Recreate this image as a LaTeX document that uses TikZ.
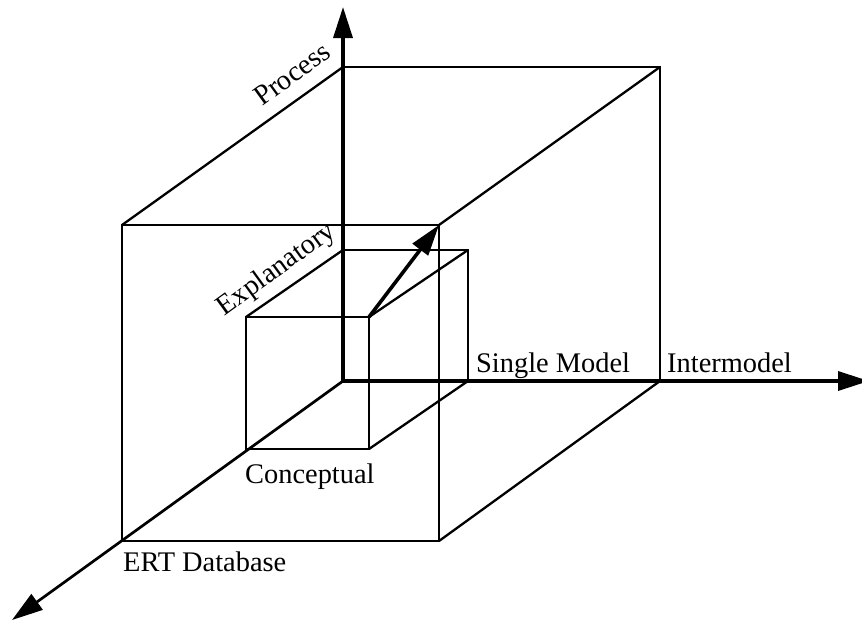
\documentclass[tikz,border=0pt]{standalone}
\usepackage{fontspec}
\setmainfont{Liberation Serif}
\usetikzlibrary{arrows.meta}
\begin{document}
\begin{tikzpicture}[x=1pt,y=-1pt,
  edge/.style={line width=2.3pt,line join=miter},
  axis/.style={line width=3.4pt,-{Triangle[length=31pt,width=19pt]}},
  diagaxis/.style={line width=2.7pt,-{Triangle[length=31pt,width=19pt]}},
  lbl/.style={inner sep=0pt,font=\fontsize{28.4}{34}\selectfont}]
\useasboundingbox (0,0) rectangle (862,621);
\clip (0,0) rectangle (862,621);
% origin of the three axes
\coordinate (O) at (343,381);
% large cube: back face and front face
\coordinate (B1) at (660,381);
\coordinate (B2) at (660,67);
\coordinate (B3) at (343,67);
\coordinate (F0) at (122,541);
\coordinate (F1) at (439,541);
\coordinate (F2) at (439,225);
\coordinate (F3) at (122,225);
% small cube: back face and front face
\coordinate (b1) at (468,381);
\coordinate (b2) at (468,250);
\coordinate (b3) at (343,250);
\coordinate (f0) at (246,449);
\coordinate (f1) at (369,449);
\coordinate (f2) at (369,317);
\coordinate (f3) at (246,317);
% axis tips
\coordinate (up) at (343,7);
\coordinate (right) at (869,381);
\coordinate (down) at (12,620);

% large cube
\draw[edge] (F0) -- (F1) -- (F2) -- (F3) -- cycle;
\draw[edge] (B3) -- (B2) -- (B1);
\draw[edge] (F3) -- (B3);
\draw[edge] (F2) -- (B2);
\draw[edge] (F1) -- (B1);

% small cube
\draw[edge] (f0) -- (f1) -- (f2) -- (f3) -- cycle;
\draw[edge] (b3) -- (b2) -- (b1);
\draw[edge] (f3) -- (b3);
\draw[edge] (f2) -- (b2);
\draw[edge] (f1) -- (b1);

% axes
\draw[axis] (O) -- (up);
\draw[axis] (O) -- (right);
\draw[diagaxis] (O) -- (down);
\draw[line width=3.6pt,-{Triangle[length=31pt,width=19pt]}] (f2) -- (F2);

% labels
\node[lbl,rotate=36] (process) at (292,74) {Process};
\node[lbl,rotate=36] (explanatory) at (277,270) {Explanatory};
\node[lbl,anchor=base west] (single) at (476,372) {Single Model};
\node[lbl,anchor=base west] (inter) at (667,372) {Intermodel};
\node[lbl,anchor=base west] (concept) at (245,483) {Conceptual};
\node[lbl,anchor=base west] (ert) at (123,571) {ERT Database};
\end{tikzpicture}
\end{document}
